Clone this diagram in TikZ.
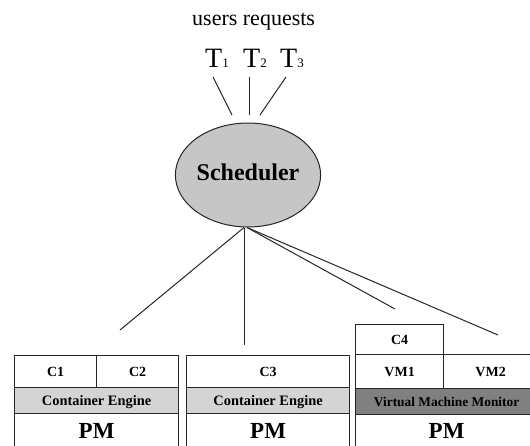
\documentclass[tikz,border=0pt]{standalone}
\usepackage{fontspec}
\setmainfont{Liberation Serif}
\usetikzlibrary{shapes.geometric}

\definecolor{lightrow}{HTML}{D4D4D4}
\definecolor{darkrow}{HTML}{808080}
\definecolor{schedfill}{HTML}{C6C6C6}
\definecolor{edge}{HTML}{262626}

\begin{document}
\begin{tikzpicture}[x=1pt,y=-1pt,
  cell/.style={draw=edge, line width=1.2pt, inner sep=0pt, anchor=north west,
    text depth=0pt, font=\fontsize{14}{15}\selectfont\bfseries},
  engine/.style={cell, fill=lightrow, font=\fontsize{14.4}{15}\selectfont\bfseries},
  monitor/.style={cell, fill=darkrow, font=\fontsize{13.4}{15}\selectfont\bfseries},
  pmrow/.style={cell, font=\fontsize{23}{25}\selectfont\bfseries},
  task/.style={anchor=base west, inner sep=0pt, font=\fontsize{28}{30}\selectfont},
  link/.style={draw=edge, line width=1pt}
]
\useasboundingbox (0,0) rectangle (530,445);
\clip (0,0) rectangle (530,445);

% incoming requests
\node[anchor=base west, inner sep=0pt, font=\fontsize{22}{24}\selectfont]
  (users) at (192,25) {users requests};
\node[task] (t1) at (205,67) {T\fontsize{13}{14}\selectfont 1};
\node[task] (t2) at (243,67) {T\fontsize{13}{14}\selectfont 2};
\node[task] (t3) at (280,67) {T\fontsize{13}{14}\selectfont 3};

% scheduler
\node[ellipse, draw=edge, line width=1pt, fill=schedfill,
      minimum width=136pt, minimum height=104pt, inner sep=0pt,
      text depth=6pt, font=\fontsize{24}{26}\selectfont\bfseries]
  (sched) at (248,175) {Scheduler};

% request lines into the scheduler
\coordinate (t1a) at (213,77);  \coordinate (t1b) at (232,115);
\coordinate (t2a) at (249,77);  \coordinate (t2b) at (249,115);
\coordinate (t3a) at (286,77);  \coordinate (t3b) at (260,115);
\draw[link] (t1a) -- (t1b);
\draw[link] (t2a) -- (t2b);
\draw[link] (t3a) -- (t3b);

% physical machine 1: two containers
\node[cell, minimum width=82pt, minimum height=32pt] (c1) at (14,355) {C1};
\node[cell, minimum width=82pt, minimum height=32pt] (c2) at (96,355) {C2};
\node[engine, minimum width=164pt, minimum height=26pt] (ce1) at (14,387) {Container Engine};
\node[pmrow, minimum width=164pt, minimum height=34pt] (pm1) at (14,413) {PM};

% physical machine 2: one container
\node[cell, minimum width=163pt, minimum height=32pt] (c3) at (186,355) {C3};
\node[engine, minimum width=163pt, minimum height=26pt] (ce2) at (186,387) {Container Engine};
\node[pmrow, minimum width=163pt, minimum height=34pt] (pm2) at (186,413) {PM};

% physical machine 3: virtual machines
\node[cell, minimum width=88pt, minimum height=30pt] (c4) at (355,324) {C4};
\node[cell, minimum width=88pt, minimum height=34pt] (vm1) at (355,354) {VM1};
\node[cell, minimum width=94pt, minimum height=34pt] (vm2) at (443,354) {VM2};
\node[monitor, minimum width=182pt, minimum height=26pt] (vmm) at (355,388) {Virtual Machine Monitor};
\node[pmrow, minimum width=182pt, minimum height=33pt] (pm3) at (355,414) {PM};

% dispatch lines from the scheduler
\coordinate (d1) at (120,330);
\coordinate (d2) at (244,345);
\coordinate (d3) at (395,309);
\coordinate (d4) at (498,335);
\draw[link] ([xshift=-4pt]sched.south) -- (d1);
\draw[link] ([xshift=-4pt]sched.south) -- (d2);
\draw[link] ([xshift=-1pt]sched.south) -- (d3);
\draw[link] ([xshift=-1pt]sched.south) -- (d4);
\end{tikzpicture}
\end{document}
